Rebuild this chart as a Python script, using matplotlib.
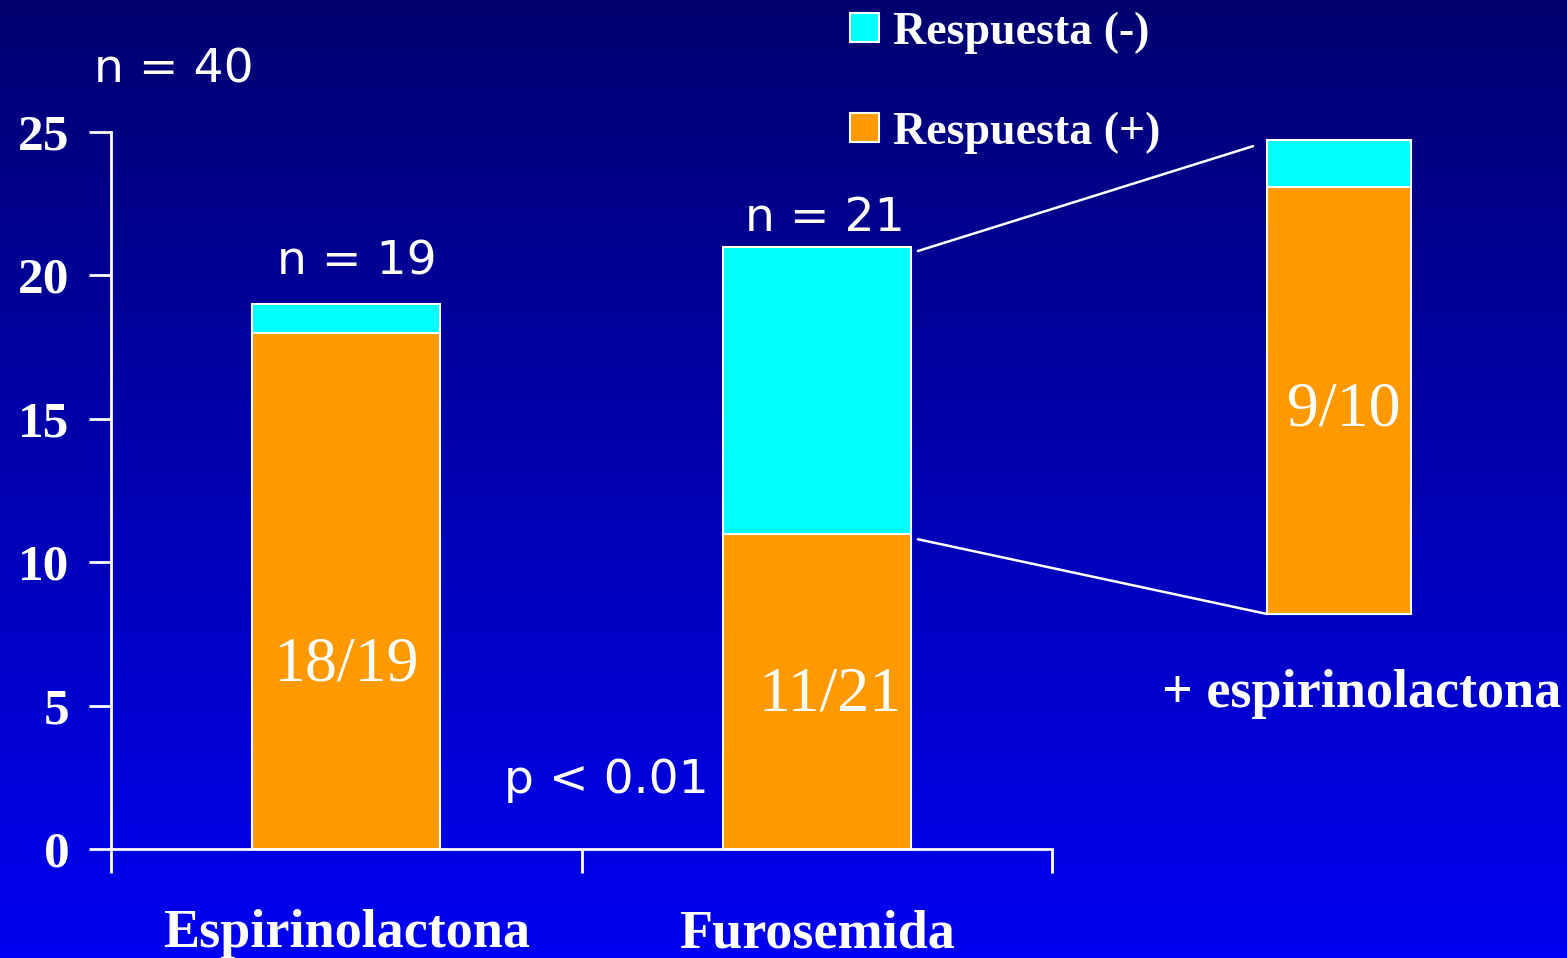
import numpy as np
import matplotlib
matplotlib.use("Agg")
import matplotlib.pyplot as plt
from matplotlib.patches import Rectangle, ConnectionPatch

# datos
grupos = ["Espirinolactona", "Furosemida"]
resp_pos = [18, 11]
resp_neg = [1, 10]
n_grupo = [19, 21]
n_total = 40

# subgrupo sin respuesta a furosemida tratado con espirinolactona
comb_pos = 9
comb_neg = 1
comb_n = 10

naranja = "#FF9900"
cian = "#00FFFF"
serif = ["Liberation Serif", "DejaVu Serif"]

W, H = 1567, 958
fig = plt.figure(figsize=(W / 100, H / 100), dpi=100)


def fx(px):
    return px / W


def fy(py):
    return 1 - py / H


# fondo degradado azul
bg = fig.add_axes([0, 0, 1, 1], zorder=-10)
grad = np.linspace(0, 1, 256).reshape(-1, 1)
top = np.array([0, 0, 112]) / 255
bottom = np.array([0, 0, 242]) / 255
img = top + grad[:, :, None] * (bottom - top)
bg.imshow(img, aspect="auto", extent=[0, 1, 0, 1])
bg.axis("off")

# grafico principal
ax = fig.add_axes([fx(111), fy(849), fx(1052) - fx(111), fy(132) - fy(849)])
ax.patch.set_alpha(0)
x = np.arange(len(grupos))
ancho = 0.40
ax.bar(x, resp_pos, ancho, color=naranja, edgecolor="white", linewidth=1.5)
ax.bar(x, resp_neg, ancho, bottom=resp_pos, color=cian, edgecolor="white", linewidth=1.5)
ax.set_xlim(-0.5, 1.5)
ax.set_ylim(0, 25)
ax.set_yticks([0, 5, 10, 15, 20, 25])
ax.set_xticks([-0.5, 0.5, 1.5])
ax.set_xticklabels([])
for s in ["top", "right"]:
    ax.spines[s].set_visible(False)
for s in ["left", "bottom"]:
    ax.spines[s].set_color("white")
    ax.spines[s].set_linewidth(2)
ax.tick_params(axis="y", colors="white", length=16, width=2, pad=14)
ax.tick_params(axis="x", colors="white", length=17, width=2)
for lab in ax.get_yticklabels():
    lab.set_fontfamily(serif)
    lab.set_fontweight("bold")
    lab.set_fontsize(37)

# etiquetas n = ... sobre cada barra
pos_n = [(0.023, 20.45), (1.017, 22.0)]
pos_frac = [(0.0, 6.4), (1.028, 5.35)]
for i, g in enumerate(grupos):
    ax.text(x[i], -2.98, g, ha="center", va="center", color="white",
            fontsize=39, fontweight="bold", family=serif, clip_on=False)
    ax.text(*pos_n[i], f"n = {n_grupo[i]}", ha="center", va="center",
            color="white", fontsize=34, clip_on=False)
    ax.text(*pos_frac[i], f"{resp_pos[i]}/{n_grupo[i]}", ha="center", va="center",
            color="white", fontsize=46, family=serif)

ax.text(0.552, 2.4, "p < 0.01", ha="center", va="center", color="white", fontsize=34)
fig.text(fx(94), fy(70), f"n = {n_total}", ha="left", va="center", color="white", fontsize=34)

# barra del subgrupo
ax2 = fig.add_axes([fx(1267), fy(614), fx(1411) - fx(1267), fy(140) - fy(614)])
ax2.bar([0], [comb_pos], 1.0, color=naranja, edgecolor="white", linewidth=1.5, clip_on=False)
ax2.bar([0], [comb_neg], 1.0, bottom=[comb_pos], color=cian, edgecolor="white",
        linewidth=1.5, clip_on=False)
ax2.set_xlim(-0.5, 0.5)
ax2.set_ylim(0, comb_n)
ax2.axis("off")
ax2.text(0.035, 4.3, f"{comb_pos}/{comb_n}", ha="center", va="center", color="white",
         fontsize=46, family=serif)
ax2.text(0.16, -1.68, "+ espirinolactona", ha="center", va="center", color="white",
         fontsize=39, fontweight="bold", family=serif, clip_on=False)

# lineas de ampliacion
for xa, xb in [((1.215, 20.85), (-0.597, 9.87)), ((1.215, 10.8), (-0.5, 0))]:
    con = ConnectionPatch(xyA=xa, coordsA=ax.transData, xyB=xb, coordsB=ax2.transData,
                          color="white", linewidth=1.8)
    fig.add_artist(con)

# leyenda
for py, col, txt in [(13, cian, "Respuesta (-)"), (113, naranja, "Respuesta (+)")]:
    fig.patches.append(Rectangle((fx(850), fy(py + 29)), fx(29), 29 / H,
                                 transform=fig.transFigure, facecolor=col,
                                 edgecolor="white", linewidth=1.5))
    fig.text(fx(893), fy(py + 20), txt, ha="left", va="center", color="white",
             fontsize=33, fontweight="bold", family=serif)

fig.savefig("out.png", dpi=100)
